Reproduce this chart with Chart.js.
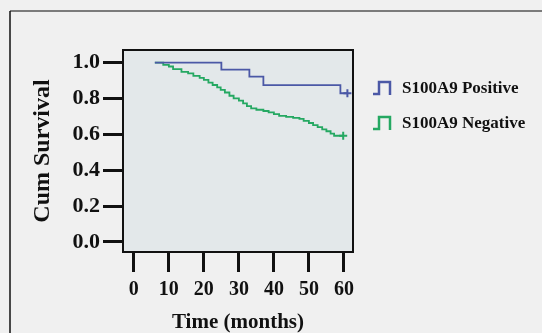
<!DOCTYPE html>
<html>
<head>
<meta charset="utf-8">
<script src="https://cdn.jsdelivr.net/npm/chart.js@4"></script>
<style>
  html, body { margin: 0; padding: 0; background: #f0f0f0; }
  #wrap { width: 542px; height: 333px; position: relative; }
</style>
</head>
<body>
<div id="wrap"><canvas id="kmChart" width="542" height="333"></canvas></div>
<script>
// Kaplan-Meier steps (months, cumulative survival)
var posTimes = [6, 25, 33, 37, 59, 61]
var posSurv = [1.0, 0.961, 0.922, 0.874, 0.829, 0.829]

var negTimes = [6, 8.4, 10, 11.2, 13.6, 15.5, 17, 18.8, 20, 21.3, 22.5, 23.8, 24.8, 26, 27.3, 28.5,
  30, 31.2, 32.3, 33.5, 35, 37, 38.5, 40, 41.5, 43.5, 45.5, 47.3, 48.5, 50, 51.2, 52.5, 53.8,
  55, 56.2, 57.2, 59.8]
var negSurv = [1.0, 0.987, 0.978, 0.963, 0.948, 0.940, 0.926, 0.915, 0.903, 0.888, 0.875, 0.862,
  0.848, 0.833, 0.815, 0.800, 0.788, 0.772, 0.757, 0.745, 0.737, 0.730, 0.722, 0.713, 0.703,
  0.697, 0.692, 0.686, 0.675, 0.663, 0.651, 0.640, 0.628, 0.617, 0.604, 0.592, 0.592]

var seriesNames = ['S100A9 Positive', 'S100A9 Negative']
var xTicks = [0, 10, 20, 30, 40, 50, 60]
var yTicks = [0.0, 0.2, 0.4, 0.6, 0.8, 1.0]

var blue = '#4b58a6'
var green = '#25a862'
var serif = '"Liberation Serif", "Times New Roman", serif'

function toPoints(xs, ys) {
  return xs.map(function (x, i) { return { x: x, y: ys[i] } })
}
// censor "+" only on the last point
function censorRadius(ctx) {
  return ctx.dataIndex === ctx.dataset.data.length - 1 ? 4 : 0
}

var frame = {
  id: 'frame',
  beforeDraw: function (chart) {
    var c = chart.ctx, a = chart.chartArea
    c.save()
    c.fillStyle = '#f0f0f0'
    c.fillRect(0, 0, chart.width, chart.height)
    // outer frame (top and left only)
    c.strokeStyle = '#555'
    c.lineWidth = 1.5
    c.beginPath(); c.moveTo(542, 11); c.lineTo(10, 11); c.stroke()
    c.strokeStyle = '#111'
    c.beginPath(); c.moveTo(10, 11); c.lineTo(10, 333); c.stroke()
    c.fillStyle = '#e3e8ea'
    c.fillRect(a.left, a.top, a.right - a.left, a.bottom - a.top)
    c.restore()
  },
  afterDraw: function (chart) {
    var c = chart.ctx, a = chart.chartArea
    c.save()
    c.strokeStyle = '#111'
    c.lineWidth = 2
    c.strokeRect(a.left, a.top, a.right - a.left, a.bottom - a.top)
    // legend with step glyphs
    chart.data.datasets.forEach(function (ds, i) {
      var y = 88 + i * 35
      var x = a.right + 20
      c.strokeStyle = ds.borderColor
      c.lineWidth = 2.5
      c.beginPath()
      c.moveTo(x, y + 6); c.lineTo(x + 6, y + 6); c.lineTo(x + 6, y - 6)
      c.lineTo(x + 17, y - 6); c.lineTo(x + 17, y + 7)
      c.stroke()
      c.fillStyle = '#111'
      c.font = 'bold 17px ' + serif
      c.textBaseline = 'middle'
      c.fillText(ds.label, x + 29, y + 1)
    })
    c.restore()
  }
}

var ctx = document.getElementById('kmChart').getContext('2d')
var kmChart = new Chart(ctx, {
  type: 'line',
  data: {
    datasets: [
      {
        label: seriesNames[0],
        data: toPoints(posTimes, posSurv),
        borderColor: blue,
        backgroundColor: blue,
        borderWidth: 1.8,
        stepped: true,
        pointStyle: 'cross',
        pointRadius: censorRadius,
        pointBorderWidth: 2,
      },
      {
        label: seriesNames[1],
        data: toPoints(negTimes, negSurv),
        borderColor: green,
        backgroundColor: green,
        borderWidth: 1.8,
        stepped: true,
        pointStyle: 'cross',
        pointRadius: censorRadius,
        pointBorderWidth: 2,
      },
    ],
  },
  options: {
    responsive: false,
    animation: false,
    layout: { padding: { top: 50, right: 189, left: 0, bottom: 0 } },
    plugins: {
      legend: { display: false },
      tooltip: { enabled: false },
    },
    scales: {
      x: {
        type: 'linear',
        min: -3.1,
        max: 62.6,
        afterBuildTicks: function (scale) {
          scale.ticks = xTicks.map(function (v) { return { value: v } })
        },
        afterFit: function (scale) { scale.height = 81 },
        border: { display: false },
        grid: { drawOnChartArea: false, color: '#111', lineWidth: 3, tickLength: 20 },
        ticks: {
          color: '#111',
          padding: 6,
          maxRotation: 0,
          autoSkip: false,
          font: { family: serif, size: 20, weight: 'bold' },
        },
        title: {
          display: true,
          text: 'Time (months)',
          color: '#111',
          padding: { top: 0, bottom: 0 },
          font: { family: serif, size: 21, weight: 'bold', lineHeight: 1 },
        },
      },
      y: {
        type: 'linear',
        min: -0.056,
        max: 1.07,
        afterBuildTicks: function (scale) {
          scale.ticks = yTicks.map(function (v) { return { value: v } })
        },
        afterFit: function (scale) { scale.width = 123 },
        border: { display: false },
        grid: { drawOnChartArea: false, color: '#111', lineWidth: 3, tickLength: 20 },
        ticks: {
          color: '#111',
          padding: 3,
          font: { family: serif, size: 22, weight: 'bold' },
          callback: function (v) { return v.toFixed(1) },
        },
        title: {
          display: true,
          text: 'Cum Survival',
          color: '#111',
          padding: { top: 31, bottom: 0 },
          font: { family: serif, size: 24, weight: 'bold', lineHeight: 1 },
        },
      },
    },
  },
  plugins: [frame],
})
</script>
</body>
</html>
